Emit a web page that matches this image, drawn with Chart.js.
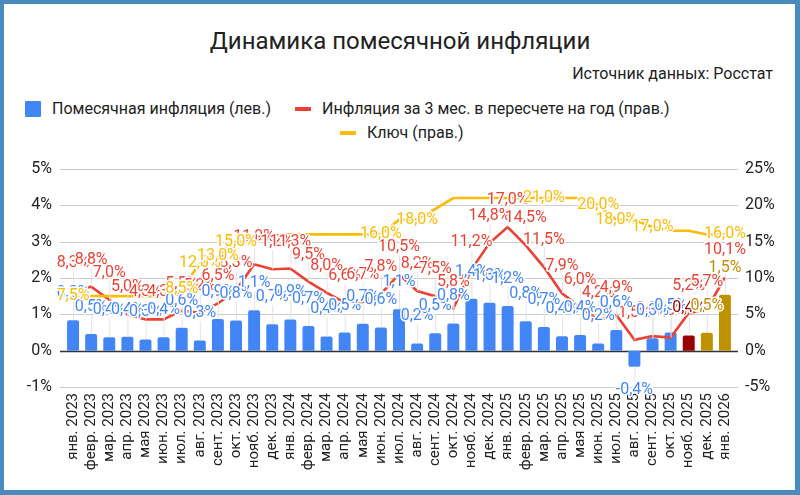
<!DOCTYPE html>
<html lang="ru">
<head>
<meta charset="utf-8">
<title>Динамика помесячной инфляции</title>
<script src="https://cdn.jsdelivr.net/npm/chart.js@4.4.1/dist/chart.umd.min.js"></script>
<style>
  html, body { margin: 0; padding: 0; }
  body { width: 800px; height: 495px; background: #4a8bbd; position: relative; overflow: hidden; font-family: Roboto, sans-serif; color: #222; }
  #card { position: absolute; left: 4px; top: 4px; width: 791px; height: 486px; background: #fff; }
  #chart { position: absolute; left: 0; top: 0; }
  .txt { position: absolute; white-space: nowrap; line-height: 1; }
  .mark { position: absolute; }
</style>
</head>
<body>
<div id="card"></div>
<div class="txt" style="left:0; width:800px; text-align:center; top:29px; font-size:24px;">Динамика помесячной инфляции</div>
<div class="txt" style="right:27px; top:66px; font-size:16px;">Источник данных: Росстат</div>

<div class="mark" style="left:25px; top:101px; width:16px; height:16px; background:#4285f4; border-radius:1px;"></div>
<div class="txt" style="left:52px; top:101px; font-size:16px;">Помесячная инфляция (лев.)</div>
<div class="mark" style="left:295px; top:107px; width:16px; height:4px; background:#ea4335;"></div>
<div class="txt" style="left:322px; top:101px; font-size:16px;">Инфляция за 3 мес. в пересчете на год (прав.)</div>
<div class="mark" style="left:340px; top:131px; width:16px; height:4px; background:#fbbc04;"></div>
<div class="txt" style="left:367px; top:125px; font-size:16px;">Ключ (прав.)</div>

<canvas id="chart" width="800" height="495"></canvas>

<script>
// месяцы янв. 2023 - янв. 2026
var monthNames = ['янв.', 'февр.', 'мар.', 'апр.', 'мая', 'июн.', 'июл.', 'авг.', 'сент.', 'окт.', 'нояб.', 'дек.']
var years = [2023, 2024, 2025, 2026]

// помесячная инфляция, % (лев.)
var monthly = [0.84, 0.46, 0.37, 0.38, 0.31, 0.37, 0.63, 0.28, 0.87, 0.83, 1.11, 0.73,
               0.86, 0.68, 0.39, 0.50, 0.74, 0.64, 1.14, 0.20, 0.48, 0.75, 1.43, 1.32,
               1.23, 0.81, 0.65, 0.40, 0.43, 0.20, 0.57, -0.44, 0.34, 0.50, 0.42, 0.49,
               1.54]

// инфляция за 3 мес. в пересчете на год, % (прав.)
var threeMonth = [8.3, 8.8, 7.0, 5.0, 4.3, 4.3, 5.5, 5.2, 6.5, 8.3, 11.9, 11.2,
                  11.3, 9.5, 8.0, 6.6, 6.7, 7.8, 10.5, 8.2, 7.5, 5.8, 11.2, 14.8,
                  17.0, 14.5, 11.5, 7.9, 6.0, 4.2, 4.9, 1.5, 2.0, 1.8, 5.2, 5.7,
                  10.1]

// ключевая ставка, % (прав.)
var keyRate = [7.5, 7.5, 7.5, 7.5, 7.5, 7.5, 8.5, 12, 13, 15, 15, 16,
               16, 16, 16, 16, 16, 16, 18, 18, null, 21, 21, 21,
               21, 21, 21, 21, 21, 20, 18, 18, 17, 16.5, 16.5, 16,
               16]

// точки ключевой ставки с подписью
var keyLabelIdx = [0, 6, 7, 8, 9, 17, 19, 26, 29, 30, 32, 36]

var categories = []
years.forEach(function(y) {
    monthNames.forEach(function(m) {
        if (categories.length < monthly.length) categories.push(m + ' ' + y)
    })
})

var blue = '#4285f4'
var red = '#ea4335'
var yellow = '#fbbc04'
var darkRed = '#990000'
var gold = '#bf9000'
var lastFact = 33   // окт. 2025 - последний обычный столбец

function barColor(i) {
    if (i == lastFact + 1) return darkRed
    if (i > lastFact + 1) return gold
    return blue
}

function pct(v) {
    return v.toFixed(1).replace('.', ',') + '%'
}

// горизонтальная сетка на всю ширину
var gridLines = {
    id: 'gridLines',
    beforeDatasetsDraw: function(chart) {
        var ctx = chart.ctx
        var s = chart.scales.y
        ctx.save()
        for (var v = -1; v <= 5; v++) {
            var py = Math.round(s.getPixelForValue(v)) + 0.5
            ctx.strokeStyle = v == 0 ? '#333333' : '#cccccc'
            ctx.lineWidth = v == 0 ? 1.5 : 1
            ctx.beginPath()
            ctx.moveTo(60, py)
            ctx.lineTo(738, py)
            ctx.stroke()
        }
        ctx.restore()
    }
}

// подписи значений
var valueLabels = {
    id: 'valueLabels',
    afterDatasetsDraw: function(chart) {
        var ctx = chart.ctx
        ctx.save()
        ctx.font = '16px Roboto'
        ctx.textAlign = 'center'
        ctx.textBaseline = 'middle'
        ctx.lineJoin = 'round'

        var order = [1, 0, 2]
        var items = []
        order.forEach(function(di) {
            var ds = chart.data.datasets[di]
            var meta = chart.getDatasetMeta(di)
            meta.data.forEach(function(el, j) {
                var v = ds.data[j]
                if (v === null || v === undefined) return
                if (di == 2 && keyLabelIdx.indexOf(j) < 0) return
                var ly = el.y
                if (di != 2) ly = v >= 0 ? el.y - 27 : el.y + 23
                var col = di == 0 ? barColor(j) : ds.borderColor
                items.push({ x: el.x, y: el.y, ly: ly, v: v, col: col, di: di })
            })
        })

        // выноски
        ctx.strokeStyle = '#e3e3e3'
        ctx.lineWidth = 1
        items.forEach(function(it) {
            if (it.di == 2) return
            ctx.beginPath()
            if (it.v >= 0) {
                ctx.moveTo(it.x + 0.5, it.ly + 8)
            } else {
                ctx.moveTo(it.x + 0.5, it.ly - 8)
            }
            ctx.lineTo(it.x + 0.5, it.y)
            ctx.stroke()
        })

        items.forEach(function(it) {
            var t = pct(it.v)
            ctx.strokeStyle = '#ffffff'
            ctx.lineWidth = 3
            ctx.strokeText(t, it.x, it.ly)
            ctx.fillStyle = it.col
            ctx.fillText(t, it.x, it.ly)
        })
        ctx.restore()
    }
}

Chart.defaults.font.family = 'Roboto'
Chart.defaults.color = '#222222'

var ctx = document.getElementById('chart').getContext('2d')
var inflChart = new Chart(ctx, {
    type: 'bar',
    data: {
        labels: categories,
        datasets: [{
            type: 'bar',
            label: 'Помесячная инфляция (лев.)',
            data: monthly,
            yAxisID: 'y',
            backgroundColor: function(c) { return barColor(c.dataIndex) },
            barPercentage: 0.66,
            categoryPercentage: 1,
            borderRadius: 2,
            order: 3
        }, {
            type: 'line',
            label: 'Инфляция за 3 мес. в пересчете на год (прав.)',
            data: threeMonth,
            yAxisID: 'y1',
            borderColor: red,
            borderWidth: 2.6,
            pointRadius: 0,
            tension: 0,
            order: 2
        }, {
            type: 'line',
            label: 'Ключ (прав.)',
            data: keyRate,
            yAxisID: 'y1',
            borderColor: yellow,
            borderWidth: 2.6,
            pointRadius: 0,
            tension: 0,
            spanGaps: true,
            order: 1
        }]
    },
    options: {
        responsive: false,
        animation: false,
        layout: {
            padding: { left: 4, right: 5, top: 169, bottom: 5 }
        },
        scales: {
            x: {
                offset: true,
                grid: { display: false, drawTicks: false },
                border: { display: false },
                ticks: {
                    autoSkip: false,
                    maxRotation: 90,
                    minRotation: 90,
                    padding: 6,
                    font: { size: 15 }
                },
                afterFit: function(s) { s.height = 103 }
            },
            y: {
                position: 'left',
                min: -1,
                max: 5,
                grid: { display: false, drawTicks: false },
                border: { display: false },
                ticks: {
                    stepSize: 1,
                    padding: 12,
                    font: { size: 16 },
                    callback: function(v) { return v + '%' }
                },
                afterFit: function(s) { s.width = 60 }
            },
            y1: {
                position: 'right',
                min: -5,
                max: 25,
                grid: { display: false, drawTicks: false },
                border: { display: false },
                ticks: {
                    stepSize: 5,
                    padding: 11,
                    font: { size: 16 },
                    callback: function(v) { return v + '%' }
                },
                afterFit: function(s) { s.width = 61 }
            }
        },
        plugins: {
            legend: { display: false },
            title: { display: false },
            tooltip: { enabled: false }
        }
    },
    plugins: [gridLines, valueLabels]
})
</script>
</body>
</html>
